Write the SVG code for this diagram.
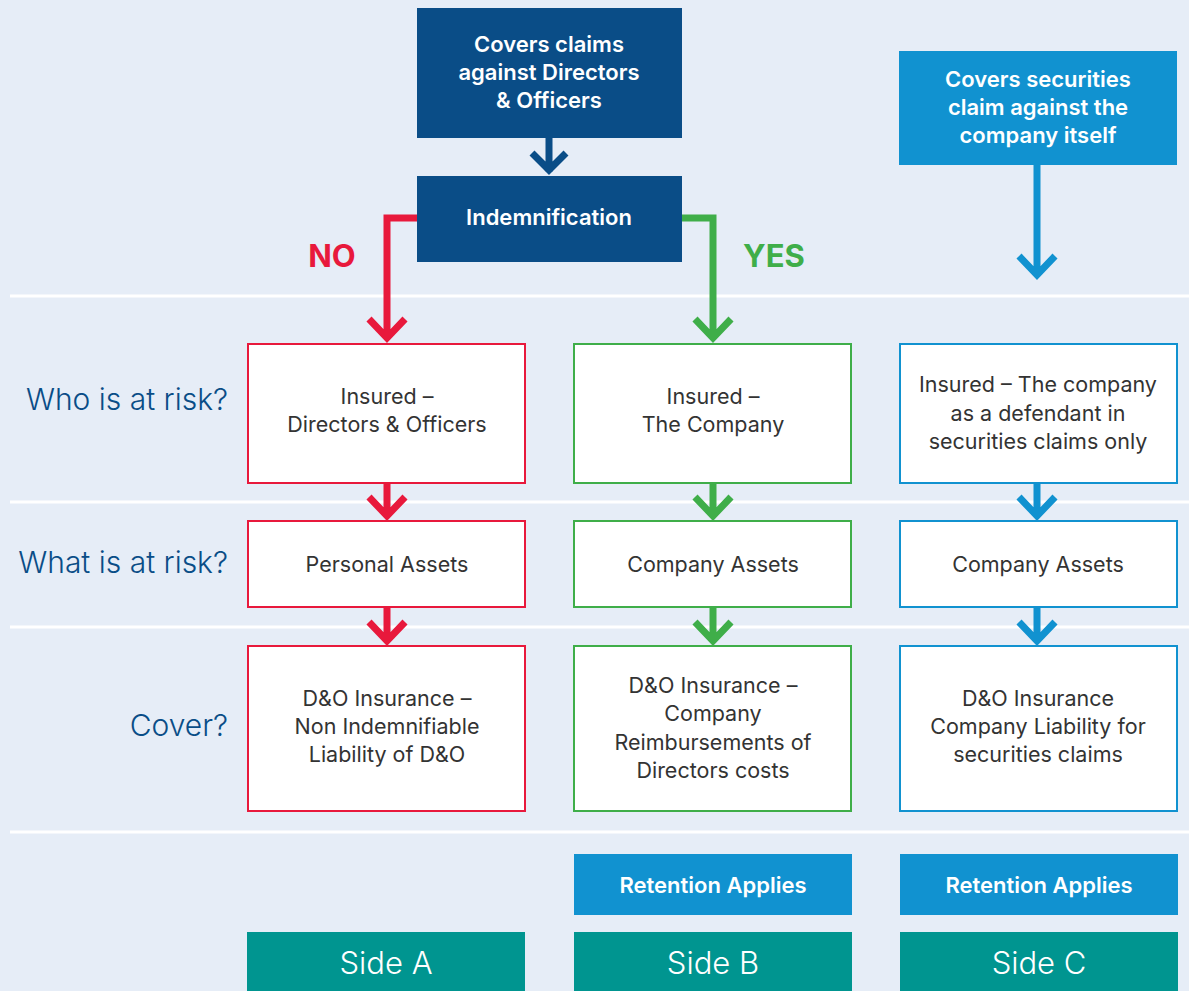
<svg xmlns="http://www.w3.org/2000/svg" width="1189" height="991" viewBox="0 0 1189 991">
<defs>
<style>
.bg{fill:#e6edf7}
.sep{stroke:#ffffff;stroke-width:3}
.dark{fill:#0a4d87}
.light{fill:#1192d0}
.teal{fill:#009590}
.t{font-family:Inter,"Liberation Sans",sans-serif}
.wb{fill:#ffffff;font-size:22px;font-weight:600;text-anchor:middle}
.body{fill:#333333;font-size:21.5px;font-weight:400;text-anchor:middle}
.lab{fill:#0a4d87;font-size:30px;font-weight:300;text-anchor:end}
.side{fill:#ffffff;font-size:31px;font-weight:300;text-anchor:middle}
.boxR{fill:#ffffff;stroke:#e8193c;stroke-width:2}
.boxG{fill:#ffffff;stroke:#3fae49;stroke-width:2}
.boxB{fill:#ffffff;stroke:#1192d0;stroke-width:2}
.cR{fill:none;stroke:#e8193c;stroke-width:7}
.cG{fill:none;stroke:#3fae49;stroke-width:7}
.cB{fill:none;stroke:#1192d0;stroke-width:7}
.cD{fill:none;stroke:#0a4d87;stroke-width:7}
</style>
</defs>
<rect class="bg" x="0" y="0" width="1189" height="991"/>
<g id="separators">
<line class="sep" x1="10" y1="296" x2="1189" y2="296"/>
<line class="sep" x1="10" y1="502" x2="1189" y2="502"/>
<line class="sep" x1="10" y1="627" x2="1189" y2="627"/>
<line class="sep" x1="10" y1="832" x2="1189" y2="832"/>
</g>
<g id="row-labels" class="t">
<text class="lab" x="228" y="410">Who is at risk?</text>
<text class="lab" x="228" y="573">What is at risk?</text>
<text class="lab" x="228" y="736">Cover?</text>
</g>
<g id="connectors">
<path class="cD" d="M549 138 V172 M532 153 L549 170 L566 153"/>
<path class="cR" d="M417 218 H387 V338 M369 319 L387 338 L405 319"/>
<path class="cG" d="M682 218 H713 V338 M695 319 L713 338 L731 319"/>
<path class="cB" d="M1037 165 V275 M1019 256 L1037 275 L1055 256"/>
<path class="cR" d="M387 483 V516 M369 497 L387 516 L405 497"/>
<path class="cG" d="M713 483 V516 M695 497 L713 516 L731 497"/>
<path class="cB" d="M1037 483 V516 M1019 497 L1037 516 L1055 497"/>
<path class="cR" d="M387 607 V641 M369 622 L387 641 L405 622"/>
<path class="cG" d="M713 607 V641 M695 622 L713 641 L731 622"/>
<path class="cB" d="M1037 607 V641 M1019 622 L1037 641 L1055 622"/>
</g>
<g id="top-dno" class="t">
<rect class="dark" x="417" y="8" width="265" height="130"/>
<text class="wb" x="549" y="52">Covers claims</text>
<text class="wb" x="549" y="80">against Directors</text>
<text class="wb" x="549" y="108">&amp; Officers</text>
</g>
<g id="indemnification" class="t">
<rect class="dark" x="417" y="176" width="265" height="86"/>
<text class="wb" x="549" y="225">Indemnification</text>
</g>
<g id="no-label" class="t"><text x="332" y="267" style="fill:#e8193c;font-size:31px;font-weight:700;text-anchor:middle">NO</text></g>
<g id="yes-label" class="t"><text x="774" y="267" style="fill:#3fae49;font-size:31px;font-weight:700;text-anchor:middle">YES</text></g>
<g id="top-securities" class="t">
<rect class="light" x="899" y="51" width="278" height="114"/>
<text class="wb" x="1038" y="87">Covers securities</text>
<text class="wb" x="1038" y="115">claim against the</text>
<text class="wb" x="1038" y="143">company itself</text>
</g>
<g id="a-who" class="t">
<rect class="boxR" x="248" y="344" width="277" height="139"/>
<text class="body" x="387" y="404">Insured –</text>
<text class="body" x="387" y="432">Directors &amp; Officers</text>
</g>
<g id="b-who" class="t">
<rect class="boxG" x="574" y="344" width="277" height="139"/>
<text class="body" x="713" y="404">Insured –</text>
<text class="body" x="713" y="432">The Company</text>
</g>
<g id="c-who" class="t">
<rect class="boxB" x="900" y="344" width="277" height="139"/>
<text class="body" x="1038" y="392">Insured – The company</text>
<text class="body" x="1038" y="421">as a defendant in</text>
<text class="body" x="1038" y="449">securities claims only</text>
</g>
<g id="a-what" class="t">
<rect class="boxR" x="248" y="521" width="277" height="86"/>
<text class="body" x="387" y="572">Personal Assets</text>
</g>
<g id="b-what" class="t">
<rect class="boxG" x="574" y="521" width="277" height="86"/>
<text class="body" x="713" y="572">Company Assets</text>
</g>
<g id="c-what" class="t">
<rect class="boxB" x="900" y="521" width="277" height="86"/>
<text class="body" x="1038" y="572">Company Assets</text>
</g>
<g id="a-cover" class="t">
<rect class="boxR" x="248" y="646" width="277" height="165"/>
<text class="body" x="387" y="706">D&amp;O Insurance –</text>
<text class="body" x="387" y="734">Non Indemnifiable</text>
<text class="body" x="387" y="762">Liability of D&amp;O</text>
</g>
<g id="b-cover" class="t">
<rect class="boxG" x="574" y="646" width="277" height="165"/>
<text class="body" x="713" y="693">D&amp;O Insurance –</text>
<text class="body" x="713" y="721">Company</text>
<text class="body" x="713" y="750">Reimbursements of</text>
<text class="body" x="713" y="778">Directors costs</text>
</g>
<g id="c-cover" class="t">
<rect class="boxB" x="900" y="646" width="277" height="165"/>
<text class="body" x="1038" y="706">D&amp;O Insurance</text>
<text class="body" x="1038" y="734">Company Liability for</text>
<text class="body" x="1038" y="762">securities claims</text>
</g>
<g id="b-retention" class="t">
<rect class="light" x="574" y="854" width="278" height="61"/>
<text class="wb" x="713" y="893">Retention Applies</text>
</g>
<g id="c-retention" class="t">
<rect class="light" x="900" y="854" width="278" height="61"/>
<text class="wb" x="1039" y="893">Retention Applies</text>
</g>
<g id="side-a" class="t">
<rect class="teal" x="247" y="932" width="278" height="59"/>
<text class="side" x="386" y="974">Side A</text>
</g>
<g id="side-b" class="t">
<rect class="teal" x="574" y="932" width="278" height="59"/>
<text class="side" x="713" y="974">Side B</text>
</g>
<g id="side-c" class="t">
<rect class="teal" x="900" y="932" width="278" height="59"/>
<text class="side" x="1039" y="974">Side C</text>
</g>
</svg>
